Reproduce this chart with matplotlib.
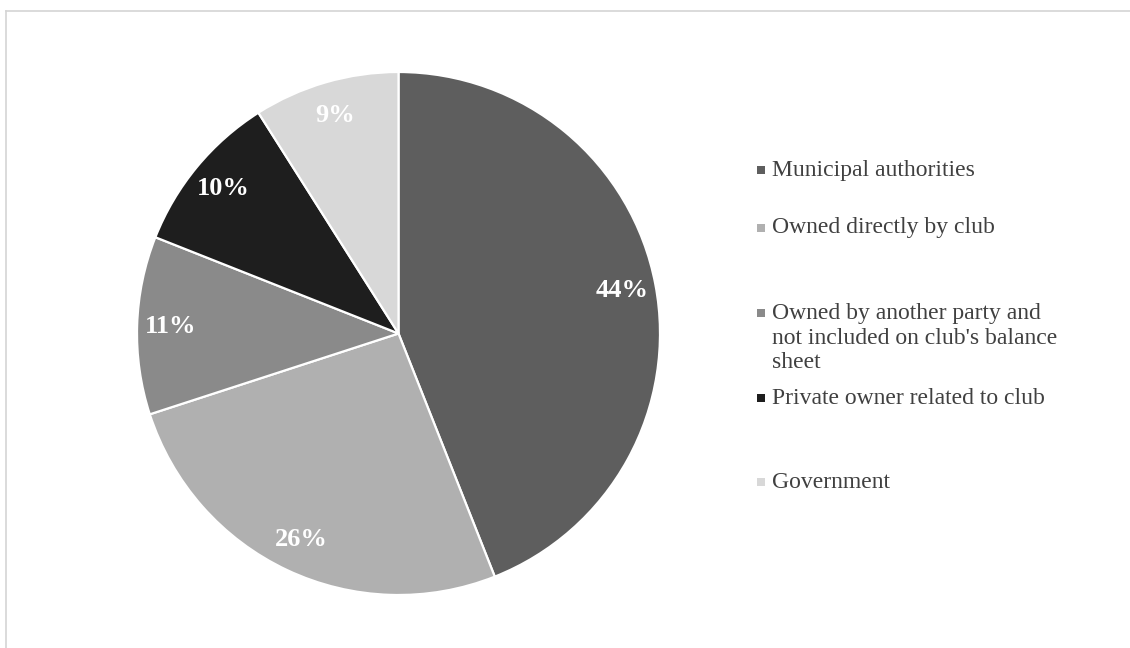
import matplotlib
matplotlib.use("Agg")
import matplotlib.pyplot as plt
from matplotlib.patches import Rectangle
from matplotlib.lines import Line2D

categories = [
    "Municipal authorities",
    "Owned directly by club",
    "Owned by another party and\nnot included on club's balance\nsheet",
    "Private owner related to club",
    "Government",
]
shares = [44, 26, 11, 10, 9]
colors = ["#5e5e5e", "#b0b0b0", "#8a8a8a", "#1e1e1e", "#d8d8d8"]

W, H = 1130, 648
fig = plt.figure(figsize=(W / 100, H / 100), dpi=100)
fig.patch.set_facecolor("white")

# thin frame around the chart area (top and left)
fig.add_artist(Line2D([6 / W, 1], [1 - 11 / H, 1 - 11 / H], color="#d4d4d4", lw=1.2))
fig.add_artist(Line2D([6 / W, 6 / W], [0, 1 - 11 / H], color="#d4d4d4", lw=1.2))

cx, cy, r = 398.5, 333.5, 261.5
ax = fig.add_axes([(cx - r) / W, (H - cy - r) / H, 2 * r / W, 2 * r / H])
wedges, texts, autotexts = ax.pie(
    shares,
    colors=colors,
    startangle=90,
    counterclock=False,
    radius=1.0,
    autopct=lambda p: f"{p:.0f}%",
    pctdistance=0.87,
    wedgeprops=dict(edgecolor="white", linewidth=1.6),
    textprops=dict(color="white", fontsize=19, fontweight="bold",
                   family="Liberation Serif"),
)
ax.set_xlim(-1, 1)
ax.set_ylim(-1, 1)
ax.set_aspect("equal")
ax.axis("off")

# legend, drawn entry by entry
legend_rows = [170, 228, 313, 398, 482]
line_step = 25
for label, col, yrow in zip(categories, colors, legend_rows):
    fig.add_artist(Rectangle((757 / W, (H - yrow - 4) / H), 8 / W, 8 / H,
                             facecolor=col, edgecolor="none",
                             transform=fig.transFigure))
    for i, line in enumerate(label.split("\n")):
        fig.text(772 / W, (H - yrow - i * line_step) / H, line,
                 ha="left", va="center",
                 fontsize=17, color="#404040", family="Liberation Serif")

fig.savefig("out.png", dpi=100, facecolor="white")
